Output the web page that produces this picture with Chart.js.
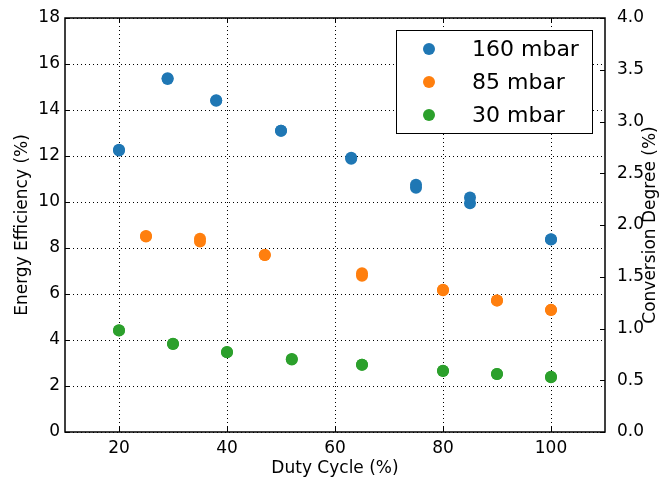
<!DOCTYPE html>
<html>
<head>
<meta charset="utf-8">
<script src="https://cdn.jsdelivr.net/npm/chart.js@4"></script>
<style>
  html, body { margin: 0; padding: 0; background: #fff; }
  #wrap { width: 662px; height: 483px; }
</style>
</head>
<body>
<div id="wrap"><canvas id="effChart" width="662" height="483"></canvas></div>
<script>
// data
const labels = ['160 mbar', '85 mbar', '30 mbar'];
const colors = ['#1f77b4', '#ff7f0e', '#2ca02c'];

const duty160 = [20, 29, 38, 50, 63, 75, 85, 100];
const eff160 = [12.27, 15.38, 14.42, 13.1, 11.92, 10.75, 10.2, 8.38];
const conv160 = [2.72, 3.41, 3.20, 2.91, 2.64, 2.36, 2.21, 1.86];

const duty85 = [25, 35, 47, 65, 80, 90, 100];
const eff85 = [8.52, 8.4, 7.7, 6.9, 6.18, 5.72, 5.3];
const conv85 = [1.89, 1.84, 1.71, 1.51, 1.37, 1.27, 1.18];

const duty30 = [20, 30, 40, 52, 65, 80, 90, 100];
const eff30 = [4.42, 3.84, 3.48, 3.17, 2.92, 2.66, 2.52, 2.4];
const conv30 = [0.98, 0.85, 0.77, 0.70, 0.65, 0.59, 0.56, 0.53];

const xTicks = [20, 40, 60, 80, 100];

function pts(xs, ys) {
    return xs.map((x, i) => ({ x: x, y: ys[i] }));
}

const groups = [
    [duty160, eff160, conv160],
    [duty85, eff85, conv85],
    [duty30, eff30, conv30]
];

const datasets = [];
groups.forEach((g, i) => {
    datasets.push({
        label: labels[i],
        data: pts(g[0], g[1]),
        yAxisID: 'y',
        backgroundColor: colors[i],
        borderWidth: 0,
        pointRadius: 6
    });
    datasets.push({
        label: labels[i] + ' conv',
        data: pts(g[0], g[2]),
        yAxisID: 'y2',
        backgroundColor: colors[i],
        borderWidth: 0,
        pointRadius: 6
    });
});

const FONT = 'DejaVu Sans';

// inward tick marks like the classic matplotlib style, plus both y titles
const innerTicks = {
    id: 'innerTicks',
    afterDraw(chart) {
        const c = chart.ctx;
        const a = chart.chartArea;
        const x = chart.scales.x, y = chart.scales.y, y2 = chart.scales.y2;
        c.save();
        c.strokeStyle = '#000';
        c.lineWidth = 1;
        c.beginPath();
        xTicks.forEach(v => {
            const px = Math.round(x.getPixelForValue(v)) + 0.5;
            c.moveTo(px, a.bottom); c.lineTo(px, a.bottom - 5);
            c.moveTo(px, a.top); c.lineTo(px, a.top + 5);
        });
        y.ticks.forEach(t => {
            const py = Math.round(y.getPixelForValue(t.value)) + 0.5;
            c.moveTo(a.left, py); c.lineTo(a.left + 5, py);
        });
        y2.ticks.forEach(t => {
            const py = Math.round(y2.getPixelForValue(t.value)) + 0.5;
            c.moveTo(a.right, py); c.lineTo(a.right - 5, py);
        });
        c.stroke();
        c.lineWidth = 1.5;
        c.strokeRect(a.left, a.top, a.right - a.left, a.bottom - a.top);

        c.fillStyle = '#000';
        c.font = '17px ' + FONT;
        c.textAlign = 'center';
        c.textBaseline = 'middle';
        const mid = (a.top + a.bottom) / 2;
        c.save();
        c.translate(23, mid);
        c.rotate(-Math.PI / 2);
        c.fillText('Energy Efficiency (%)', 0, 0);
        c.restore();
        c.translate(651, mid);
        c.rotate(-Math.PI / 2);
        c.fillText('Conversion Degree (%)', 0, 0);
        c.restore();
    }
};

// legend box in the upper right corner
const boxLegend = {
    id: 'boxLegend',
    afterDraw(chart) {
        const c = chart.ctx;
        const bx = 396, by = 30, bw = 196, bh = 103;
        c.save();
        c.fillStyle = '#fff';
        c.fillRect(bx, by, bw, bh);
        c.strokeStyle = '#000';
        c.lineWidth = 1;
        c.strokeRect(bx + 0.5, by + 0.5, bw, bh);
        c.font = '22px ' + FONT;
        c.textBaseline = 'middle';
        labels.forEach((l, i) => {
            const cy = by + 19 + i * 33;
            c.fillStyle = colors[i];
            c.beginPath();
            c.arc(bx + 33, cy, 6, 0, Math.PI * 2);
            c.fill();
            c.fillStyle = '#000';
            c.fillText(l, bx + 76, cy + 1);
        });
        c.restore();
    }
};

const ctx = document.getElementById('effChart').getContext('2d');
const effChart = new Chart(ctx, {
    type: 'scatter',
    data: { datasets: datasets },
    plugins: [innerTicks, boxLegend],
    options: {
        responsive: false,
        animation: false,
        layout: { padding: { top: 18, left: 0, right: 0, bottom: 0 } },
        plugins: {
            legend: { display: false },
            tooltip: { enabled: false }
        },
        scales: {
            x: {
                type: 'linear',
                min: 10,
                max: 110,
                afterBuildTicks: s => { s.ticks = xTicks.map(v => ({ value: v })); },
                afterFit: s => { s.height = 51; },
                border: { display: false, dash: [1, 3] },
                grid: { color: '#000', lineWidth: 1, drawTicks: false },
                ticks: { color: '#000', font: { family: FONT, size: 17 }, padding: 6 },
                title: { display: true, text: 'Duty Cycle (%)', color: '#000', font: { family: FONT, size: 17 }, padding: { top: 5 } }
            },
            y: {
                position: 'left',
                min: 0,
                max: 18,
                ticks: { stepSize: 2, color: '#000', font: { family: FONT, size: 17 }, padding: 5 },
                afterFit: s => { s.width = 65; },
                border: { display: false, dash: [1, 3] },
                grid: { color: '#000', lineWidth: 1, drawTicks: false }
            },
            y2: {
                position: 'right',
                min: 0,
                max: 4,
                ticks: { stepSize: 0.5, color: '#000', font: { family: FONT, size: 17 }, padding: 4,
                    callback: v => v.toFixed(1) },
                afterFit: s => { s.width = 57; },
                border: { display: false },
                grid: { display: false }
            }
        }
    }
});
</script>
</body>
</html>
